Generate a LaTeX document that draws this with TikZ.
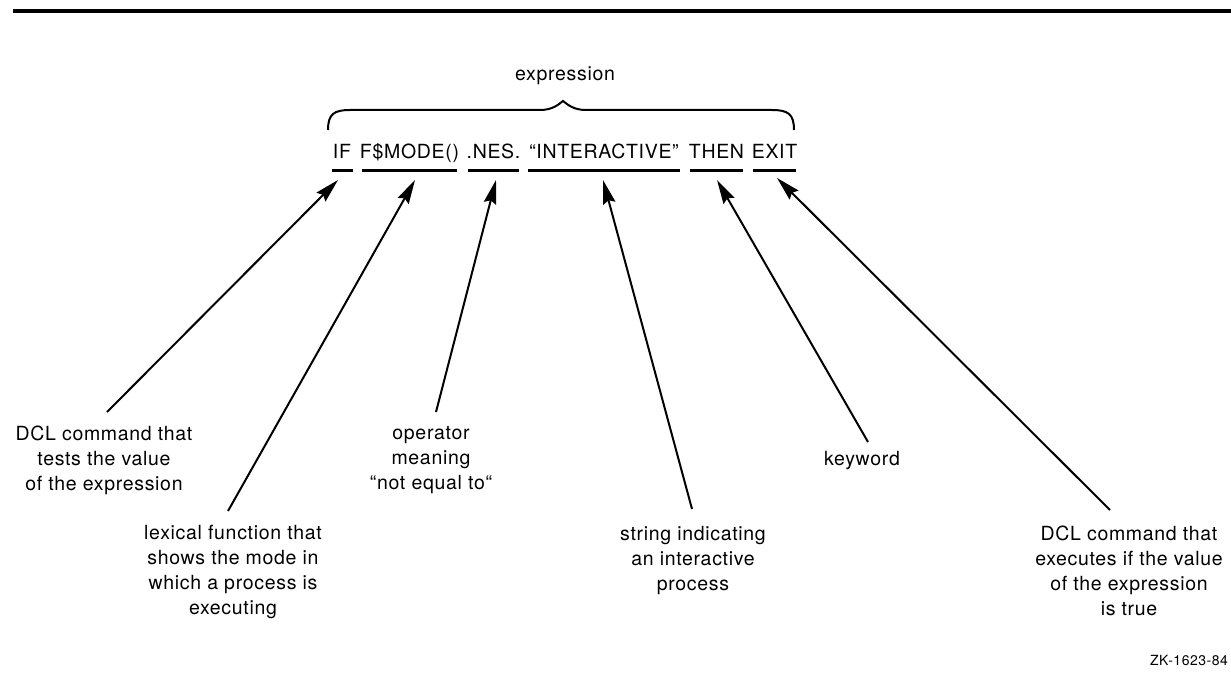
\documentclass[tikz,border=0pt]{standalone}
\usepackage{fontspec}
\setmainfont{TeX Gyre Heros}[LetterSpace=3.5]
\usetikzlibrary{arrows.meta}
\tikzset{
  lbl/.style={font=\fontsize{19.5}{25}\selectfont, align=center, inner sep=0pt, anchor=north},
  tok/.style={font=\fontsize{19.5}{25}\selectfont, inner sep=0pt, anchor=base},
  uline/.style={line width=3pt},
  arr/.style={line width=2pt, -{Stealth[length=24pt,width=12.5pt,inset=3pt]}},
  brace/.style={line width=2pt}
}
\begin{document}
\begin{tikzpicture}[x=1pt,y=-1pt]
\useasboundingbox (0,0) rectangle (1231,690);
% top rule
\draw[line width=3.5pt] (13,11) -- (1231,11);
% expression label and brace
\node[tok] (expr) at (565,81) {expression};
\draw[brace] (328,130) .. controls (328,114) and (334,110) .. (350,110) -- (540,110)
  .. controls (552,110) and (558,105) .. (563,101) .. controls (568,105) and (574,110) .. (586,110)
  -- (772,110) .. controls (788,110) and (794,114) .. (794,130);
% tokens
\node[tok] (tIF) at (342,158) {IF};
\node[tok] (tMODE) at (409.5,158) {F\$MODE()};
\node[tok] (tNES) at (493.5,158) {.NES.};
\node[tok] (tINT) at (604,158) {“INTERACTIVE”};
\node[tok] (tTHEN) at (716.5,158) {THEN};
\node[tok] (tEXIT) at (774.5,158) {EXIT};
% underlines
\draw[uline] (332,170) -- (353,170);
\draw[uline] (362,170) -- (457,170);
\draw[uline] (468,170) -- (519,170);
\draw[uline] (528,170) -- (680,170);
\draw[uline] (690,170) -- (743,170);
\draw[uline] (753,170) -- (796,170);
% labels
\node[lbl] (lIF) at (104,426) {DCL command that\\tests the value\\of the expression};
\node[lbl] (lMODE) at (233,525) {lexical function that\\shows the mode in\\which a process is\\executing};
\node[lbl] (lNES) at (431,426) {operator\\meaning\\“not equal to“};
\node[lbl] (lINT) at (693,526) {string indicating\\an interactive\\process};
\node[lbl] (lTHEN) at (862,451) {keyword};
\node[lbl] (lEXIT) at (1129,526) {DCL command that\\executes if the value\\of the expression\\is true};
\node[font=\fontsize{14}{16}\selectfont, inner sep=0pt, anchor=base east] (zk) at (1228,665) {ZK-1623-84};
% arrow ends
\coordinate (aIF) at (107,412);   \coordinate (bIF) at (338,180);
\coordinate (aMODE) at (228,511); \coordinate (bMODE) at (415,180);
\coordinate (aNES) at (436,412);  \coordinate (bNES) at (496,180);
\coordinate (aINT) at (692,509);  \coordinate (bINT) at (603,180);
\coordinate (aTHEN) at (868,442); \coordinate (bTHEN) at (717,180);
\coordinate (aEXIT) at (1110,510);\coordinate (bEXIT) at (777,178);
\draw[arr] (aIF) -- (bIF);
\draw[arr] (aMODE) -- (bMODE);
\draw[arr] (aNES) -- (bNES);
\draw[arr] (aINT) -- (bINT);
\draw[arr] (aTHEN) -- (bTHEN);
\draw[arr] (aEXIT) -- (bEXIT);
\end{tikzpicture}
\end{document}
